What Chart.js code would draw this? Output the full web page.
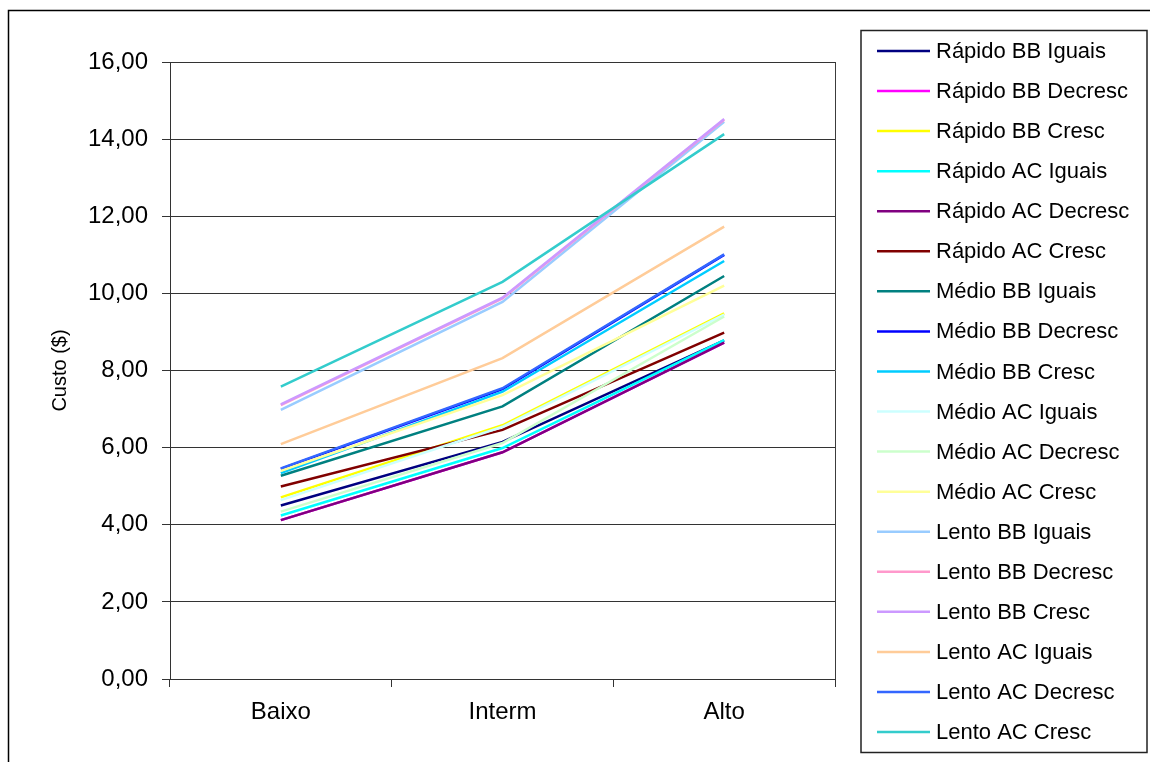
<!DOCTYPE html>
<html lang="pt">
<head>
  <meta charset="UTF-8" />
  <title>Custo por nível</title>
  <style>
    body, html {
      margin: 0;
      background: #fff;
      font-family: 'Liberation Sans', Arial, sans-serif;
    }
    #wrap {
      width: 1150px;
      height: 762px;
    }
  </style>
</head>
<body>

<div id="wrap"><canvas id="custoChart" width="1150" height="762"></canvas></div>

<script src="https://cdn.jsdelivr.net/npm/chart.js"></script>
<script>
  const categories = ['Baixo', 'Interm', 'Alto'];
  const yTicks = [0, 2, 4, 6, 8, 10, 12, 14, 16];

  const seriesNames = [
    'Rápido BB Iguais', 'Rápido BB Decresc', 'Rápido BB Cresc',
    'Rápido AC Iguais', 'Rápido AC Decresc', 'Rápido AC Cresc',
    'Médio BB Iguais', 'Médio BB Decresc', 'Médio BB Cresc',
    'Médio AC Iguais', 'Médio AC Decresc', 'Médio AC Cresc',
    'Lento BB Iguais', 'Lento BB Decresc', 'Lento BB Cresc',
    'Lento AC Iguais', 'Lento AC Decresc', 'Lento AC Cresc'
  ];

  const rapidoBBIguais  = [4.50, 6.15, 8.78];
  const rapidoBBDecresc = [4.12, 5.88, 8.72];
  const rapidoBBCresc   = [4.71, 6.58, 9.48];
  const rapidoACIguais  = [4.24, 5.99, 8.79];
  const rapidoACDecresc = [4.12, 5.88, 8.72];
  const rapidoACCresc   = [4.99, 6.46, 8.98];
  const medioBBIguais   = [5.27, 7.07, 10.45];
  const medioBBDecresc  = [5.45, 7.52, 11.00];
  const medioBBCresc    = [5.34, 7.45, 10.84];
  const medioACIguais   = [4.64, 6.54, 9.45];
  const medioACDecresc  = [4.34, 6.12, 9.40];
  const medioACCresc    = [5.40, 7.36, 10.20];
  const lentoBBIguais   = [6.98, 9.78, 14.45];
  const lentoBBDecresc  = [7.10, 9.87, 14.50];
  const lentoBBCresc    = [7.12, 9.89, 14.52];
  const lentoACIguais   = [6.09, 8.32, 11.73];
  const lentoACDecresc  = [5.46, 7.54, 11.01];
  const lentoACCresc    = [7.58, 10.30, 14.13];

  const seriesValues = [
    rapidoBBIguais, rapidoBBDecresc, rapidoBBCresc,
    rapidoACIguais, rapidoACDecresc, rapidoACCresc,
    medioBBIguais, medioBBDecresc, medioBBCresc,
    medioACIguais, medioACDecresc, medioACCresc,
    lentoBBIguais, lentoBBDecresc, lentoBBCresc,
    lentoACIguais, lentoACDecresc, lentoACCresc
  ];

  const seriesColors = [
    '#000080', '#ff00ff', '#ffff00',
    '#00ffff', '#800080', '#800000',
    '#008080', '#0000ff', '#00ccff',
    '#ccffff', '#ccffcc', '#ffff99',
    '#99ccff', '#ff99cc', '#cc99ff',
    '#ffcc99', '#3366ff', '#33cccc'
  ];

  const FONT = "'Liberation Sans', Arial, sans-serif";

  // outer frame, plot right edge and the boxed legend
  const framePlugin = {
    id: 'frame',
    afterDraw(chart) {
      const ctx = chart.ctx;
      const area = chart.chartArea;
      ctx.save();
      ctx.strokeStyle = '#000';
      ctx.lineWidth = 1.5;
      ctx.strokeRect(8.5, 10.5, 1400, 1000);

      ctx.strokeStyle = '#3c3c3c';
      ctx.lineWidth = 1;
      ctx.beginPath();
      ctx.moveTo(Math.round(area.right) + 0.5, area.top);
      ctx.lineTo(Math.round(area.right) + 0.5, area.bottom);
      ctx.stroke();

      ctx.strokeStyle = '#222';
      ctx.lineWidth = 1.5;
      ctx.strokeRect(861, 30.5, 286, 722);

      ctx.font = '22px ' + FONT;
      ctx.textBaseline = 'middle';
      ctx.fillStyle = '#000';
      chart.data.datasets.forEach((ds, i) => {
        const y = 51 + i * 40.06;
        ctx.strokeStyle = ds.borderColor;
        ctx.lineWidth = 2.5;
        ctx.beginPath();
        ctx.moveTo(877, y);
        ctx.lineTo(930, y);
        ctx.stroke();
        ctx.fillText(ds.label, 936, y + 1);
      });
      ctx.restore();
    }
  };

  const datasets = seriesNames.map((name, i) => ({
    label: name,
    data: seriesValues[i],
    borderColor: seriesColors[i],
    backgroundColor: seriesColors[i],
    borderWidth: 2.5,
    pointRadius: 0,
    tension: 0,
    order: seriesNames.length - i
  }));

  new Chart(document.getElementById('custoChart').getContext('2d'), {
    type: 'line',
    data: { labels: categories, datasets: datasets },
    options: {
      responsive: false,
      animation: false,
      layout: { padding: { left: 0, top: 62, right: 315, bottom: 0 } },
      plugins: {
        legend: { display: false },
        tooltip: { enabled: false }
      },
      scales: {
        x: {
          type: 'category',
          offset: true,
          afterFit(scale) { scale.height = 83; },
          grid: {
            offset: true,
            drawOnChartArea: false,
            drawTicks: true,
            tickLength: 8,
            color: '#333'
          },
          border: { color: '#333', width: 1 },
          ticks: {
            color: '#000',
            padding: 11,
            font: { family: FONT, size: 24 }
          }
        },
        y: {
          min: 0,
          max: 16,
          afterFit(scale) { scale.width = 170; },
          afterBuildTicks(scale) {
            scale.ticks = yTicks.map(v => ({ value: v }));
          },
          grid: {
            color: '#333',
            tickLength: 8
          },
          border: { color: '#333', width: 1 },
          ticks: {
            color: '#000',
            padding: 14,
            font: { family: FONT, size: 24 },
            callback: v => v.toFixed(2).replace('.', ',')
          },
          title: {
            display: true,
            text: 'Custo ($)',
            color: '#000',
            font: { family: FONT, size: 20 },
            padding: { top: 48, bottom: 0 }
          }
        }
      }
    },
    plugins: [framePlugin]
  });
</script>

</body>
</html>
